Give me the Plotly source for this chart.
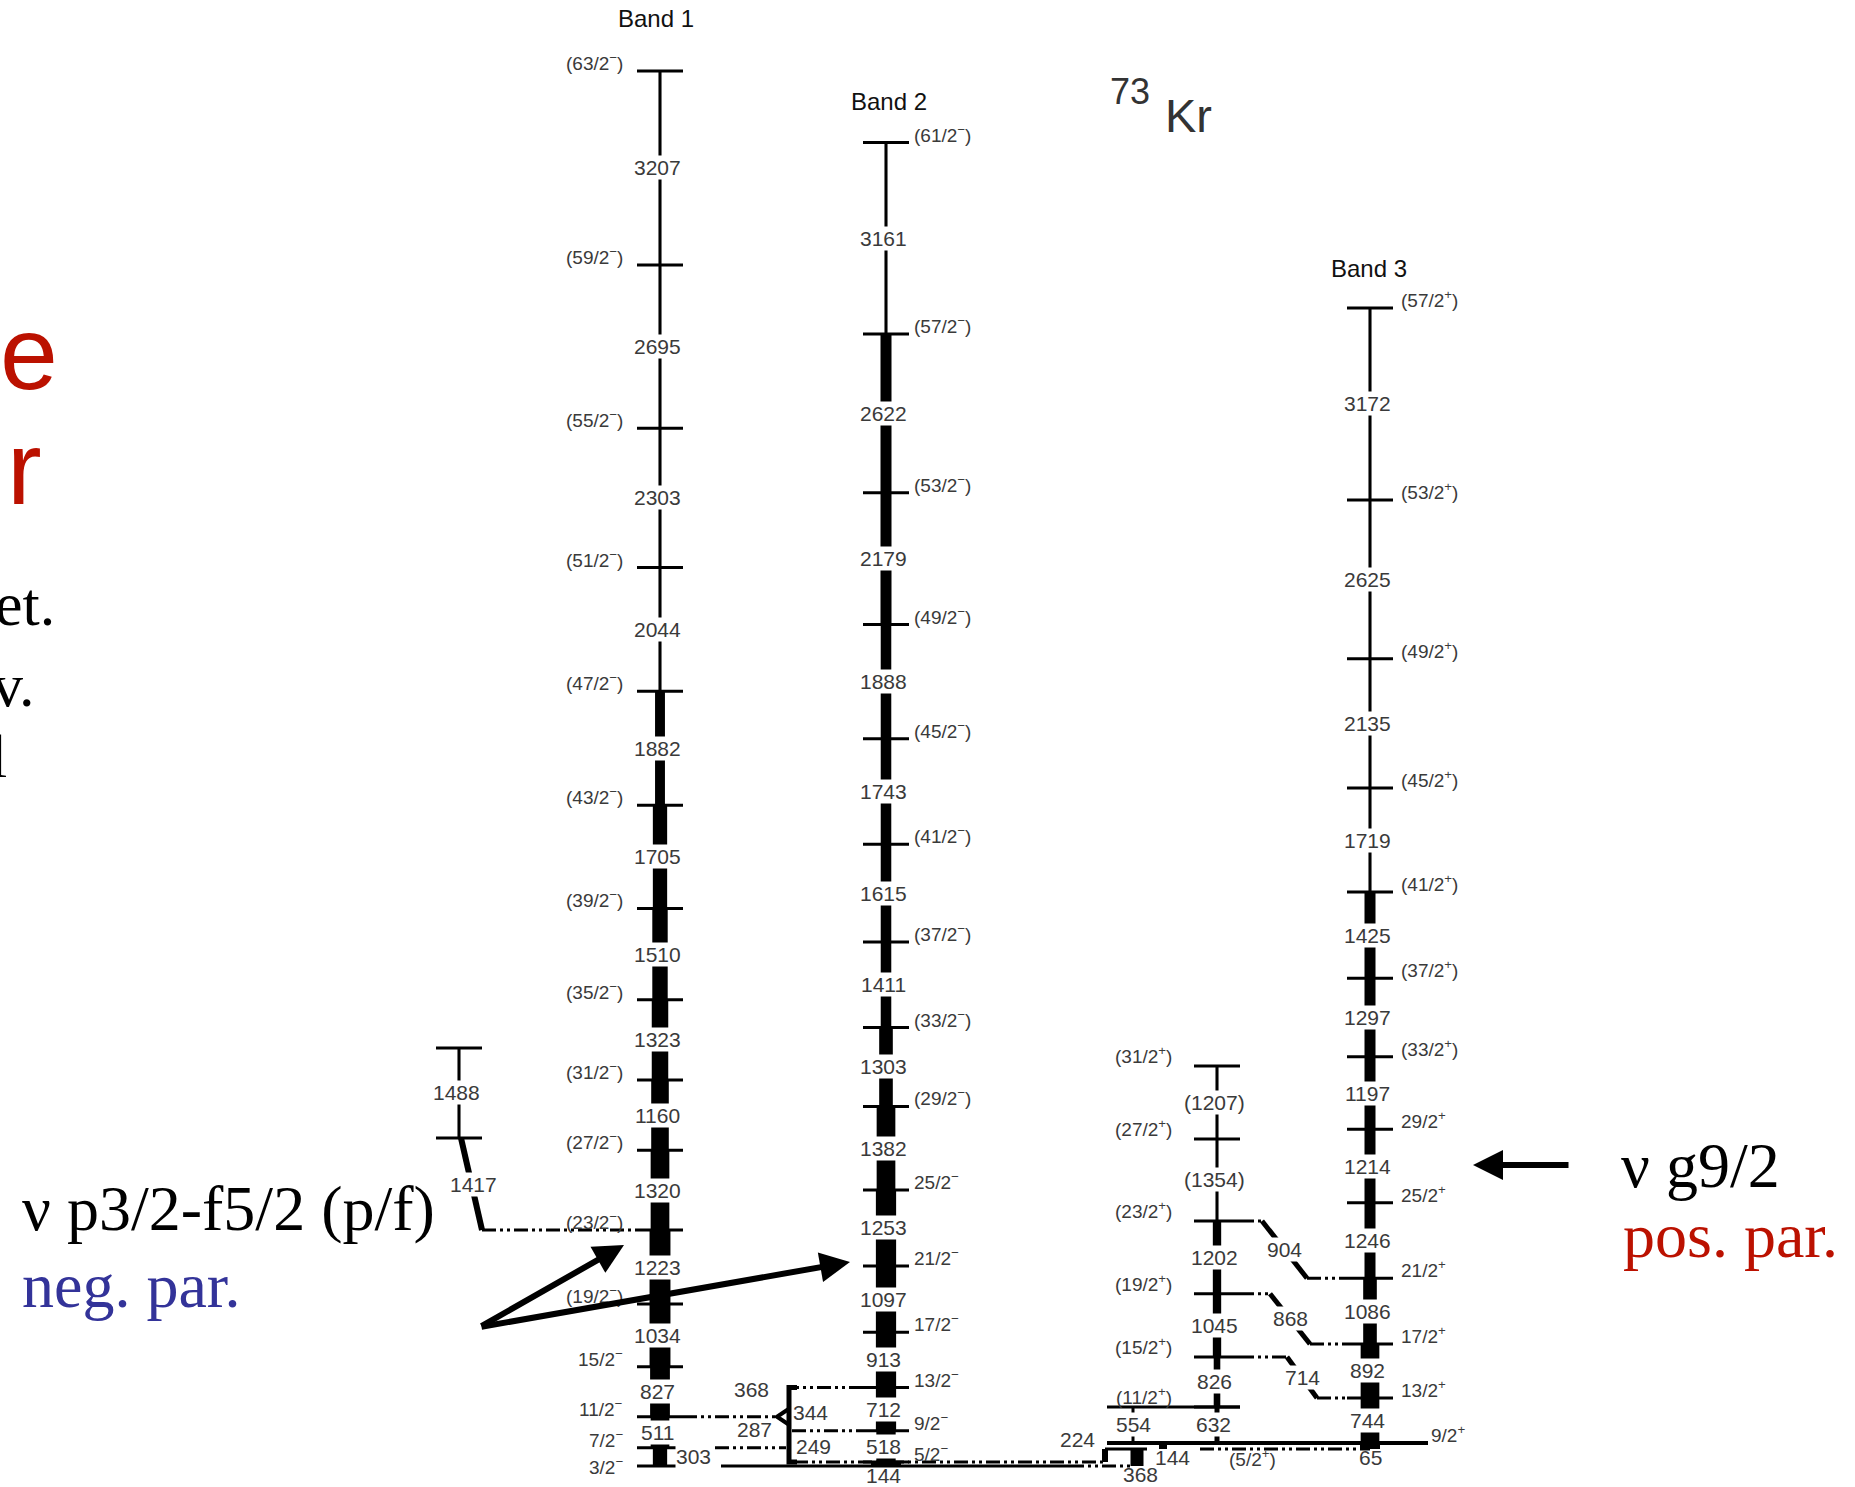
import plotly.graph_objects as go

# ================= DATA =================
# Band 1 : negative parity (p/f)
band1_head_keV = 0
band1_spins = ["3/2-", "7/2-", "11/2-", "15/2-", "(19/2-)", "(23/2-)", "(27/2-)", "(31/2-)",
               "(35/2-)", "(39/2-)", "(43/2-)", "(47/2-)", "(51/2-)", "(55/2-)", "(59/2-)", "(63/2-)"]
band1_gammas = [303, 511, 827, 1034, 1223, 1320, 1160, 1323, 1510, 1705, 1882, 2044, 2303, 2695, 3207]
band1_rel_int = [65, 85, 90, 95, 95, 85, 80, 75, 70, 65, 45, 14, 14, 14, 14]

# Band 2 : negative parity
band2_head_keV = 66
band2_spins = ["5/2-", "9/2-", "13/2-", "17/2-", "21/2-", "25/2-", "(29/2-)", "(33/2-)",
               "(37/2-)", "(41/2-)", "(45/2-)", "(49/2-)", "(53/2-)", "(57/2-)", "(61/2-)"]
band2_gammas = [518, 712, 913, 1097, 1253, 1382, 1303, 1411, 1615, 1743, 1888, 2179, 2622, 3161]
band2_rel_int = [88, 92, 92, 92, 92, 85, 62, 48, 48, 48, 48, 50, 50, 14]

# Band 3 : positive parity (g9/2)
band3_head_keV = 380
band3_spins = ["9/2+", "13/2+", "17/2+", "21/2+", "25/2+", "29/2+", "(33/2+)", "(37/2+)",
               "(41/2+)", "(45/2+)", "(49/2+)", "(53/2+)", "(57/2+)"]
band3_gammas = [744, 892, 1086, 1246, 1214, 1197, 1297, 1425, 1719, 2135, 2625, 3172]
band3_rel_int = [85, 85, 62, 50, 50, 50, 50, 50, 14, 14, 14, 14]

# Side band (positive parity)
side_head_keV = 975
side_spins = ["(11/2+)", "(15/2+)", "(19/2+)", "(23/2+)", "(27/2+)", "(31/2+)"]
side_gammas = [826, 1045, 1202, 1354, 1207]
side_gamma_text = ["826", "1045", "1202", "(1354)", "(1207)"]
side_rel_int = [30, 38, 38, 14, 14]

# Small band left of band 1
left_head_keV = 5419
left_gammas = [1488]
left_rel_int = [14]
left_link_gamma = "1417"      # to band 1 level index 5
left_link_target = 5

# Low-lying levels / transitions
level_52p_keV = 281           # (5/2+)
b2_to_b1_labels = ["368", "344", "287", "249"]
side_to_b3 = [("904", 3, 3), ("868", 2, 2), ("714", 1, 1)]

# ================= LAYOUT CONSTANTS =================
W, H = 1855, 1487
KEV_PER_PX = 16.52
Y0 = 1466                      # pixel row of 0 keV
Y_RANGE = [-(H - Y0) * KEV_PER_PX, Y0 * KEV_PER_PX]
X_B1, X_B2, X_B3, X_SB, X_LB = 660, 886, 1370, 1217, 459
HALF = 23
INT_TO_PX = 0.22
DASH = "14px,4px,3px,4px,3px,4px"
LBL_COL = "#3a3a3a"
SANS = "Liberation Sans, Arial, sans-serif"
SERIF = "Liberation Serif, Times New Roman, serif"
GSIZE = 21
SSIZE = 19

fig = go.Figure()
ann = []
ticks_x, ticks_y = [], []


def seg(xs, ys, width=3, dash=None, color="black"):
    fig.add_trace(go.Scatter(x=xs, y=ys, mode="lines",
                             line=dict(color=color, width=width, dash=dash),
                             hoverinfo="skip", showlegend=False))


def tick(x, e, half=HALF):
    ticks_x.extend([x - half, x + half, None])
    ticks_y.extend([e, e, None])


def label(x, y, text, size=GSIZE, color=LBL_COL, bg="rgba(0,0,0,0)", xanchor="center",
          yshift=0, xref="x", yref="y", family=SANS):
    ann.append(dict(x=x, y=y, xref=xref, yref=yref, text=text, showarrow=False,
                    font=dict(family=family, size=size, color=color), bgcolor=bg,
                    xanchor=xanchor, yanchor="middle", yshift=yshift, borderpad=0))


def fmt(s):
    return s.replace("-", "<sup>−</sup>").replace("+", "<sup>+</sup>")


def levels(head, gammas):
    out = [head]
    for g in gammas:
        out.append(out[-1] + g)
    return out


def draw_band(x, head, gammas, rel, gtext=None, gdx=None):
    E = levels(head, gammas)
    for i in range(len(gammas)):
        seg([x, x], [E[i], E[i + 1]], width=max(3, rel[i] * INT_TO_PX))
    for e in E:
        tick(x, e)
    for i, g in enumerate(gammas):
        t = gtext[i] if gtext else str(g)
        dx = gdx.get(i, 0) if gdx else 0
        label(x - 3 + dx, (E[i] + E[i + 1]) / 2, t, bg="white")
    return E


def PX(xp):
    return xp / W


def PY(yp):
    return 1 - yp / H


# ---- bands ----
E1 = draw_band(X_B1, band1_head_keV, band1_gammas, band1_rel_int, gdx={0: 36})
E2 = draw_band(X_B2, band2_head_keV, band2_gammas, band2_rel_int)
E3 = draw_band(X_B3, band3_head_keV, band3_gammas, band3_rel_int)
ES = draw_band(X_SB, side_head_keV, side_gammas, side_rel_int, gtext=side_gamma_text)
EL = draw_band(X_LB, left_head_keV, left_gammas, left_rel_int)

for i, s in enumerate(band1_spins):
    label(X_B1 - 36, E1[i], fmt(s), size=SSIZE, xanchor="right", yshift=(0 if i == 0 else 9))
for i, s in enumerate(band2_spins):
    label(X_B2 + 27, E2[i], fmt(s), size=SSIZE, xanchor="left", yshift=9)
for i, s in enumerate(band3_spins):
    label(X_B3 + (60 if i == 0 else 30), E3[i], fmt(s), size=SSIZE, xanchor="left", yshift=9)
for i, s in enumerate(side_spins):
    label(X_SB - 44, ES[i], fmt(s), size=SSIZE, xanchor="right", yshift=11)

# ---- left band link (1417) ----
seg([X_LB + 2, X_LB + 23], [EL[0], E1[left_link_target]], width=6)
label(X_LB + 14, (EL[0] + E1[left_link_target]) / 2, left_link_gamma, bg="white")
seg([X_LB + 23, X_B1 - HALF], [E1[left_link_target]] * 2, width=3, dash=DASH)

# ---- ground state and low-lying structure ----
seg([721, 1070], [0, 0], width=3)
seg([1070, 1132], [0, 0], width=3, dash=DASH)
seg([X_B2, X_B2], [0, band2_head_keV], width=30)                     # 144 (band 2 head)
label(X_B2 - 3, 0, "144", yshift=-9)
seg([794, 1105], [band2_head_keV] * 2, width=3, dash=DASH)
seg([1105, 1105], [band2_head_keV, level_52p_keV], width=6)          # 224
seg([1105, 1147], [level_52p_keV] * 2, width=3)
label(1077, level_52p_keV, "224", yshift=9)
seg([1137, 1137], [0, level_52p_keV], width=13)                       # 368
label(1140, 0, "368", yshift=-8)
seg([1200, X_B3], [level_52p_keV] * 2, width=3, dash=DASH)            # (5/2+)
label(1252, level_52p_keV, fmt("(5/2+)"), size=SSIZE, yshift=-9)
seg([1107, 1428], [band3_head_keV] * 2, width=4)                      # 9/2+ level
seg([1163, 1163], [level_52p_keV, band3_head_keV], width=8)           # 144
label(1172, level_52p_keV, "144", yshift=-9)
seg([X_B3, X_B3], [level_52p_keV, band3_head_keV], width=20)          # 65
label(X_B3, level_52p_keV, "65", yshift=-9)
seg([1107, 1240], [side_head_keV] * 2, width=3)                       # (11/2+) level
seg([1133, 1133], [band3_head_keV, side_head_keV], width=3)           # 554
label(1133, (band3_head_keV + side_head_keV) / 2, "554", bg="white")
seg([X_SB, X_SB], [band3_head_keV, side_head_keV], width=5)           # 632
label(X_SB - 4, (band3_head_keV + side_head_keV) / 2, "632", bg="white")

# ---- band 2 -> band 1 links with bracket ----
e13 = E2[2]
e9 = E2[1]
e11 = E1[2]
e7 = E1[1]
seg([X_B2 - HALF, 796], [e13, e13], width=3, dash=DASH)
label(751, e13, b2_to_b1_labels[0], yshift=-2)
seg([797, 789, 789, 797], [e13, e13, band2_head_keV, band2_head_keV], width=5)
seg([789, 777, 789], [e11 + 8 * KEV_PER_PX, e11, e11 - 8 * KEV_PER_PX], width=4)
seg([X_B1 + HALF, 776], [e11, e11], width=3, dash=DASH)
label(810, e11, b2_to_b1_labels[1], yshift=4)
seg([792, X_B2 - HALF], [e9, e9], width=3, dash=DASH)
label(754, e9, b2_to_b1_labels[2], yshift=1)
seg([X_B1 + HALF, 786], [e7, e7], width=3, dash=DASH)
label(813, e7, b2_to_b1_labels[3], yshift=1)

# ---- side band -> band 3 links ----
link_x = {"904": (1262, 1307), "868": (1270, 1310), "714": (1287, 1317)}
for txt, i_from, i_to in side_to_b3:
    x1, x2 = link_x[txt]
    ef, et = ES[i_from], E3[i_to]
    seg([X_SB + HALF, x1], [ef, ef], width=3, dash=DASH)
    seg([x1, x2], [ef, et], width=5)
    seg([x2, X_B3 - HALF], [et, et], width=3, dash=DASH)
    label((x1 + x2) / 2, (ef + et) / 2, txt, bg="white")

# ticks
fig.add_trace(go.Scatter(x=ticks_x, y=ticks_y, mode="lines", line=dict(color="black", width=3),
                         hoverinfo="skip", showlegend=False))

# ---- titles ----
label(PX(656), PY(19), "Band 1", size=24, color="#111", xref="paper", yref="paper")
label(PX(889), PY(101), "Band 2", size=24, color="#111", xref="paper", yref="paper")
label(PX(1369), PY(268), "Band 3", size=24, color="#111", xref="paper", yref="paper")
label(PX(1130), PY(91), "73", size=36, color="#333", xref="paper", yref="paper")
label(PX(1188), PY(115), "Kr", size=47, color="#333", xref="paper", yref="paper")

# ---- slide text ----
label(PX(59), PY(353), "e", size=104, color="#bb1100", xanchor="right", xref="paper", yref="paper")
label(PX(43), PY(468), "r", size=104, color="#bb1100", xanchor="right", xref="paper", yref="paper")
label(PX(56), PY(604), "et.", size=62, color="black", xanchor="right", xref="paper", yref="paper", family=SERIF)
label(PX(35), PY(685), "v.", size=62, color="black", xanchor="right", xref="paper", yref="paper", family=SERIF)
label(PX(8), PY(756), "l", size=62, color="black", xanchor="right", xref="paper", yref="paper", family=SERIF)
label(PX(21), PY(1208), "ν p3/2-f5/2 (p/f)", size=64, color="black", xanchor="left",
      xref="paper", yref="paper", family=SERIF)
label(PX(21), PY(1285), "neg. par.", size=64, color="#333399", xanchor="left",
      xref="paper", yref="paper", family=SERIF)
label(PX(1620), PY(1165), "ν g9/2", size=64, color="black", xanchor="left",
      xref="paper", yref="paper", family=SERIF)
label(PX(1622), PY(1235), "pos. par.", size=64, color="#bb1100", xanchor="left",
      xref="paper", yref="paper", family=SERIF)

# ---- arrows ----
for tip, tail in [((624, 1245), (480, 1327)), ((850, 1262), (480, 1327)), ((1473, 1165), (1570, 1165))]:
    ann.append(dict(x=PX(tip[0]), y=PY(tip[1]), xref="paper", yref="paper", text="",
                    showarrow=True, ax=tail[0] - tip[0], ay=tail[1] - tip[1],
                    arrowhead=2, arrowsize=1, arrowwidth=6, arrowcolor="black", standoff=0))

fig.update_layout(
    width=W, height=H, margin=dict(l=0, r=0, t=0, b=0),
    paper_bgcolor="white", plot_bgcolor="white",
    xaxis=dict(range=[0, W], visible=False, fixedrange=True),
    yaxis=dict(range=Y_RANGE, visible=False, fixedrange=True),
    annotations=ann, showlegend=False,
)
fig.write_html("out.html", config={"displayModeBar": False})
